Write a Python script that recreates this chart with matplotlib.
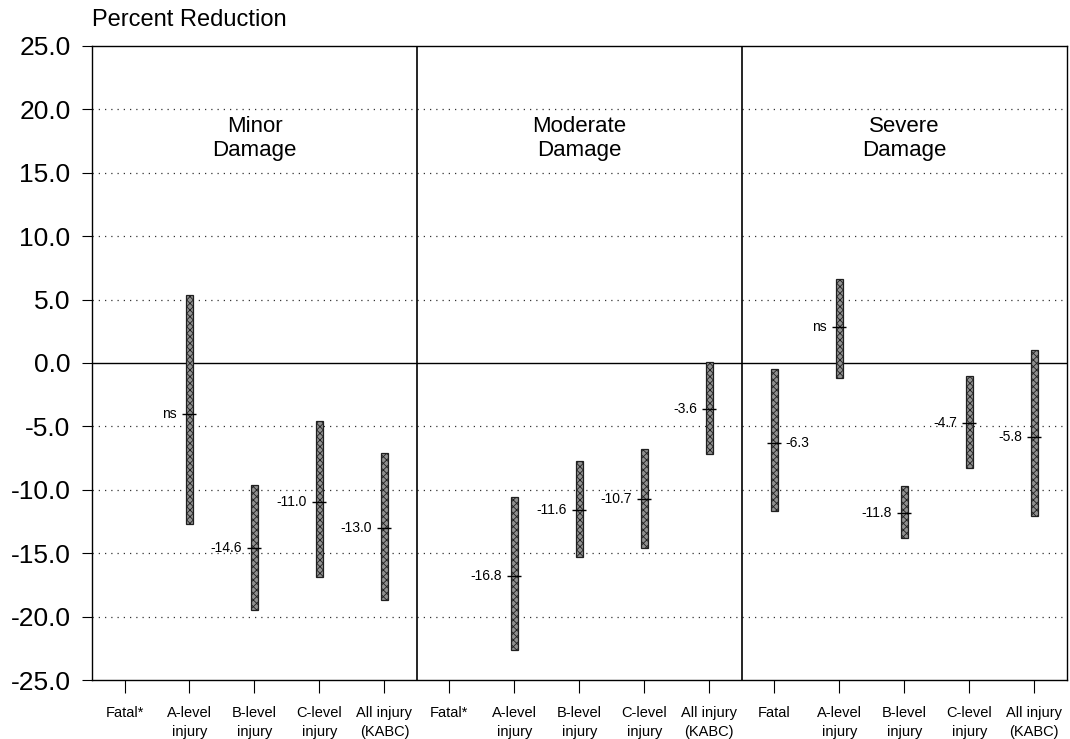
import numpy as np
import matplotlib
matplotlib.use('Agg')
from matplotlib import pyplot as plt

plt.rcParams['font.family'] = ['Liberation Sans', 'DejaVu Sans']
plt.rcParams['hatch.linewidth'] = 0.6

# x categories, same five in every panel
panels = ['Minor\nDamage', 'Moderate\nDamage', 'Severe\nDamage']
cat_labels = ['Fatal*\n', 'A-level\ninjury', 'B-level\ninjury', 'C-level\ninjury', 'All injury\n(KABC)',
              'Fatal*\n', 'A-level\ninjury', 'B-level\ninjury', 'C-level\ninjury', 'All injury\n(KABC)',
              'Fatal\n', 'A-level\ninjury', 'B-level\ninjury', 'C-level\ninjury', 'All injury\n(KABC)']

# confidence range (low / high) and point estimate, None = no estimate
low = [None, -12.7, -19.5, -16.9, -18.7,
       None, -22.6, -15.3, -14.6, -7.2,
       -11.7, -1.2, -13.8, -8.3, -12.1]
high = [None, 5.4, -9.6, -4.6, -7.1,
        None, -10.6, -7.7, -6.8, 0.1,
        -0.5, 6.6, -9.7, -1.0, 1.0]
est = [None, -4.0, -14.6, -11.0, -13.0,
       None, -16.8, -11.6, -10.7, -3.6,
       -6.3, 2.8, -11.8, -4.7, -5.8]
est_text = ['', 'ns', '-14.6', '-11.0', '-13.0',
            '', '-16.8', '-11.6', '-10.7', '-3.6',
            '-6.3', 'ns', '-11.8', '-4.7', '-5.8']
label_right = [False] * 10 + [True] + [False] * 4

fig = plt.figure(figsize=(10.7, 7.39), dpi=100)
ax = fig.add_axes([0.086, 0.0798, 0.911, 0.858])

x = np.arange(len(cat_labels))
ax.set_xlim(-0.5, len(cat_labels) - 0.5)
ax.set_ylim(-25, 25)

# gridlines
for yv in [20, 15, 10, 5, -5, -10, -15, -20]:
    ax.axhline(yv, color='#333333', lw=0.9, ls=(0, (1, 4)), zorder=1)
ax.axhline(0, color='black', lw=1.0, zorder=1)

# panel dividers
for xd in [4.5, 9.5]:
    ax.axvline(xd, color='black', lw=1.2, zorder=1)

for i in x:
    if low[i] is None:
        continue
    ax.bar(i, high[i] - low[i], bottom=low[i], width=0.11, facecolor='#909090',
           edgecolor='#202020', hatch='xxxxx', linewidth=0.9, zorder=3)
    ax.plot([i], [est[i]], marker='_', markersize=10, mew=1.0, color='black', zorder=4)
    if label_right[i]:
        ax.annotate(est_text[i], (i, est[i]), xytext=(8, 0), textcoords='offset points',
                    ha='left', va='center', fontsize=10)
    else:
        ax.annotate(est_text[i], (i, est[i]), xytext=(-9, 0), textcoords='offset points',
                    ha='right', va='center', fontsize=10)

# panel titles
for k, name in enumerate(panels):
    ax.text(2 + 5 * k, 17.7, name, ha='center', va='center', fontsize=16, linespacing=1.2)

ax.set_xticks(x)
ax.set_xticklabels(cat_labels, fontsize=10.5, linespacing=1.45)
ax.tick_params(axis='x', length=9, width=0.8, pad=10)
ax.set_yticks(np.arange(-25, 26, 5))
ax.set_yticklabels(['%.1f' % v for v in np.arange(-25, 26, 5)], fontsize=19)
ax.tick_params(axis='y', length=7.5, width=0.8, pad=8)

for sp in ax.spines.values():
    sp.set_linewidth(1.0)

fig.text(0.086, 0.973, 'Percent Reduction', fontsize=17, ha='left', va='center')

fig.savefig('out.png', dpi=100)
